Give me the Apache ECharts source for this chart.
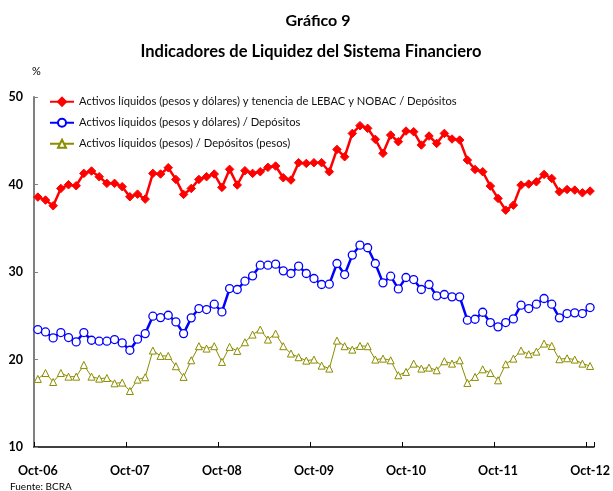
<!DOCTYPE html>
<html><head><meta charset="utf-8">
<script src="https://cdn.jsdelivr.net/npm/echarts@6/dist/echarts.min.js"></script>
<style>html,body{margin:0;padding:0;background:#fff}#c{width:613px;height:491px}</style>
</head><body><div id="c"></div>
<script>
const categories = [
"Oct-06","Nov-06","Dic-06","Ene-07","Feb-07","Mar-07","Abr-07","May-07","Jun-07","Jul-07","Ago-07","Sep-07",
"Oct-07","Nov-07","Dic-07","Ene-08","Feb-08","Mar-08","Abr-08","May-08","Jun-08","Jul-08","Ago-08","Sep-08",
"Oct-08","Nov-08","Dic-08","Ene-09","Feb-09","Mar-09","Abr-09","May-09","Jun-09","Jul-09","Ago-09","Sep-09",
"Oct-09","Nov-09","Dic-09","Ene-10","Feb-10","Mar-10","Abr-10","May-10","Jun-10","Jul-10","Ago-10","Sep-10",
"Oct-10","Nov-10","Dic-10","Ene-11","Feb-11","Mar-11","Abr-11","May-11","Jun-11","Jul-11","Ago-11","Sep-11",
"Oct-11","Nov-11","Dic-11","Ene-12","Feb-12","Mar-12","Abr-12","May-12","Jun-12","Jul-12","Ago-12","Sep-12",
"Oct-12"];
const seriesNames = [
"Activos líquidos (pesos y dólares) y tenencia de LEBAC y NOBAC / Depósitos",
"Activos líquidos (pesos y dólares) / Depósitos",
"Activos líquidos (pesos) / Depósitos (pesos)"];
const redValues = [
38.56,38.22,37.57,39.55,39.97,39.86,41.27,41.54,40.89,40.13,40.13,39.75,38.6,38.9,38.33,41.27,41.2,41.92,40.58,
38.87,39.55,40.58,40.89,41.2,39.67,41.73,39.94,41.58,41.27,41.46,41.96,42.11,40.77,40.51,42.49,42.41,42.49,42.49,
41.46,44.01,43.17,45.84,46.72,46.42,45.16,43.56,45.65,44.89,46.11,46.03,44.51,45.54,44.7,45.84,45.2,45.08,42.79,41.72,
41.46,39.82,38.41,37.07,37.64,39.93,40.05,40.31,41.15,40.7,39.17,39.43,39.36,39.05,39.25];
const blueValues = [
23.42,23.15,22.47,23.08,22.51,22.01,23.08,22.2,22.09,22.09,22.28,21.9,21.06,22.32,22.96,24.95,24.79,25.06,24.3,
22.96,24.76,25.82,25.71,26.32,25.44,28.11,28.0,28.95,29.56,30.78,30.78,30.9,30.13,29.83,30.67,29.83,29.26,28.57,
28.61,30.97,29.71,31.93,33.07,32.77,30.97,28.76,29.52,28.07,29.37,29.14,28.0,28.57,27.27,27.43,27.16,27.16,24.49,
24.6,25.4,24.22,23.73,24.22,24.64,26.21,25.82,26.32,26.97,26.32,24.76,25.25,25.33,25.25,25.94];
const oliveValues = [
17.78,18.46,17.43,18.46,18.04,18.04,19.38,18.04,17.81,17.89,17.28,17.36,16.4,17.7,17.97,21.02,20.41,20.41,19.23,
18.01,19.91,21.52,21.25,21.52,19.72,21.44,20.98,21.97,22.85,23.42,22.28,22.96,21.52,20.68,20.26,19.87,19.99,19.3,
18.96,22.16,21.52,21.13,21.55,21.52,19.99,20.1,19.91,18.2,18.58,19.53,18.96,19.07,18.77,19.8,19.53,19.91,17.32,
18.01,18.88,18.46,17.62,19.46,20.1,21.02,20.6,20.9,21.82,21.55,20.03,20.14,19.99,19.53,19.26];

const FONT = 'Lato, "Open Sans", sans-serif';
const chart = echarts.init(document.getElementById('c'), null, {renderer:'canvas'});
chart.setOption({
  animation:false,
  backgroundColor:'#fff',
  title:[
    {text:'Gráfico 9', left:313, top:8, textAlign:'center',
     textStyle:{fontFamily:FONT, fontWeight:'bold', fontSize:16, color:'#000'}},
    {text:'Indicadores de Liquidez del Sistema Financiero', left:306, top:38, textAlign:'center',
     textStyle:{fontFamily:FONT, fontWeight:'bold', fontSize:16.5, color:'#000'}}
  ],
  graphic:[
    {type:'text', left:32, top:66, style:{text:'%', font:'11px '+FONT, fill:'#000'}},
    {type:'text', left:10, top:482, style:{text:'Fuente: BCRA', font:'10px '+FONT, fill:'#000'}}
  ],
  legend:{
    orient:'vertical', left:44, top:90, itemGap:7.5, itemWidth:24, itemHeight:10,
    textStyle:{fontFamily:FONT, fontSize:11.2, color:'#111', lineHeight:13.5},
    data:seriesNames
  },
  grid:{left:34, right:17, top:97, bottom:44, containLabel:false},
  xAxis:{
    type:'category', data:categories, boundaryGap:true,
    axisLine:{lineStyle:{color:'#000', width:1.5}},
    axisTick:{show:true, inside:true, length:5, interval:11, lineStyle:{color:'#000', width:1}},
    axisLabel:{interval:11, margin:17, fontFamily:FONT, fontWeight:'bold', fontSize:12.5, color:'#000'},
    splitLine:{show:false}
  },
  yAxis:{
    type:'value', min:10, max:50, interval:10,
    axisLine:{show:true, lineStyle:{color:'#808080', width:2}},
    axisTick:{show:true, inside:true, length:4, lineStyle:{color:'#808080'}},
    axisLabel:{margin:11, fontFamily:FONT, fontWeight:'bold', fontSize:12.5, color:'#000'},
    splitLine:{show:false}
  },
  series:[
    {name:seriesNames[0], type:'line', data:redValues, symbol:'diamond', symbolSize:8.5, showAllSymbol:true,
     lineStyle:{color:'#ff0000', width:2.5}, itemStyle:{color:'#ff0000', borderColor:'#ff0000', borderWidth:1}, z:5},
    {name:seriesNames[1], type:'line', data:blueValues, symbol:'circle', symbolSize:8, showAllSymbol:true,
     lineStyle:{color:'#0000ff', width:2.5}, itemStyle:{color:'#fff', borderColor:'#0000ff', borderWidth:1.3}, z:4},
    {name:seriesNames[2], type:'line', data:oliveValues, symbol:'triangle', symbolSize:7, showAllSymbol:true,
     lineStyle:{color:'#8c8c00', width:1}, itemStyle:{color:'#fff', borderColor:'#8c8c00', borderWidth:1}, z:3}
  ]
});
</script></body></html>
